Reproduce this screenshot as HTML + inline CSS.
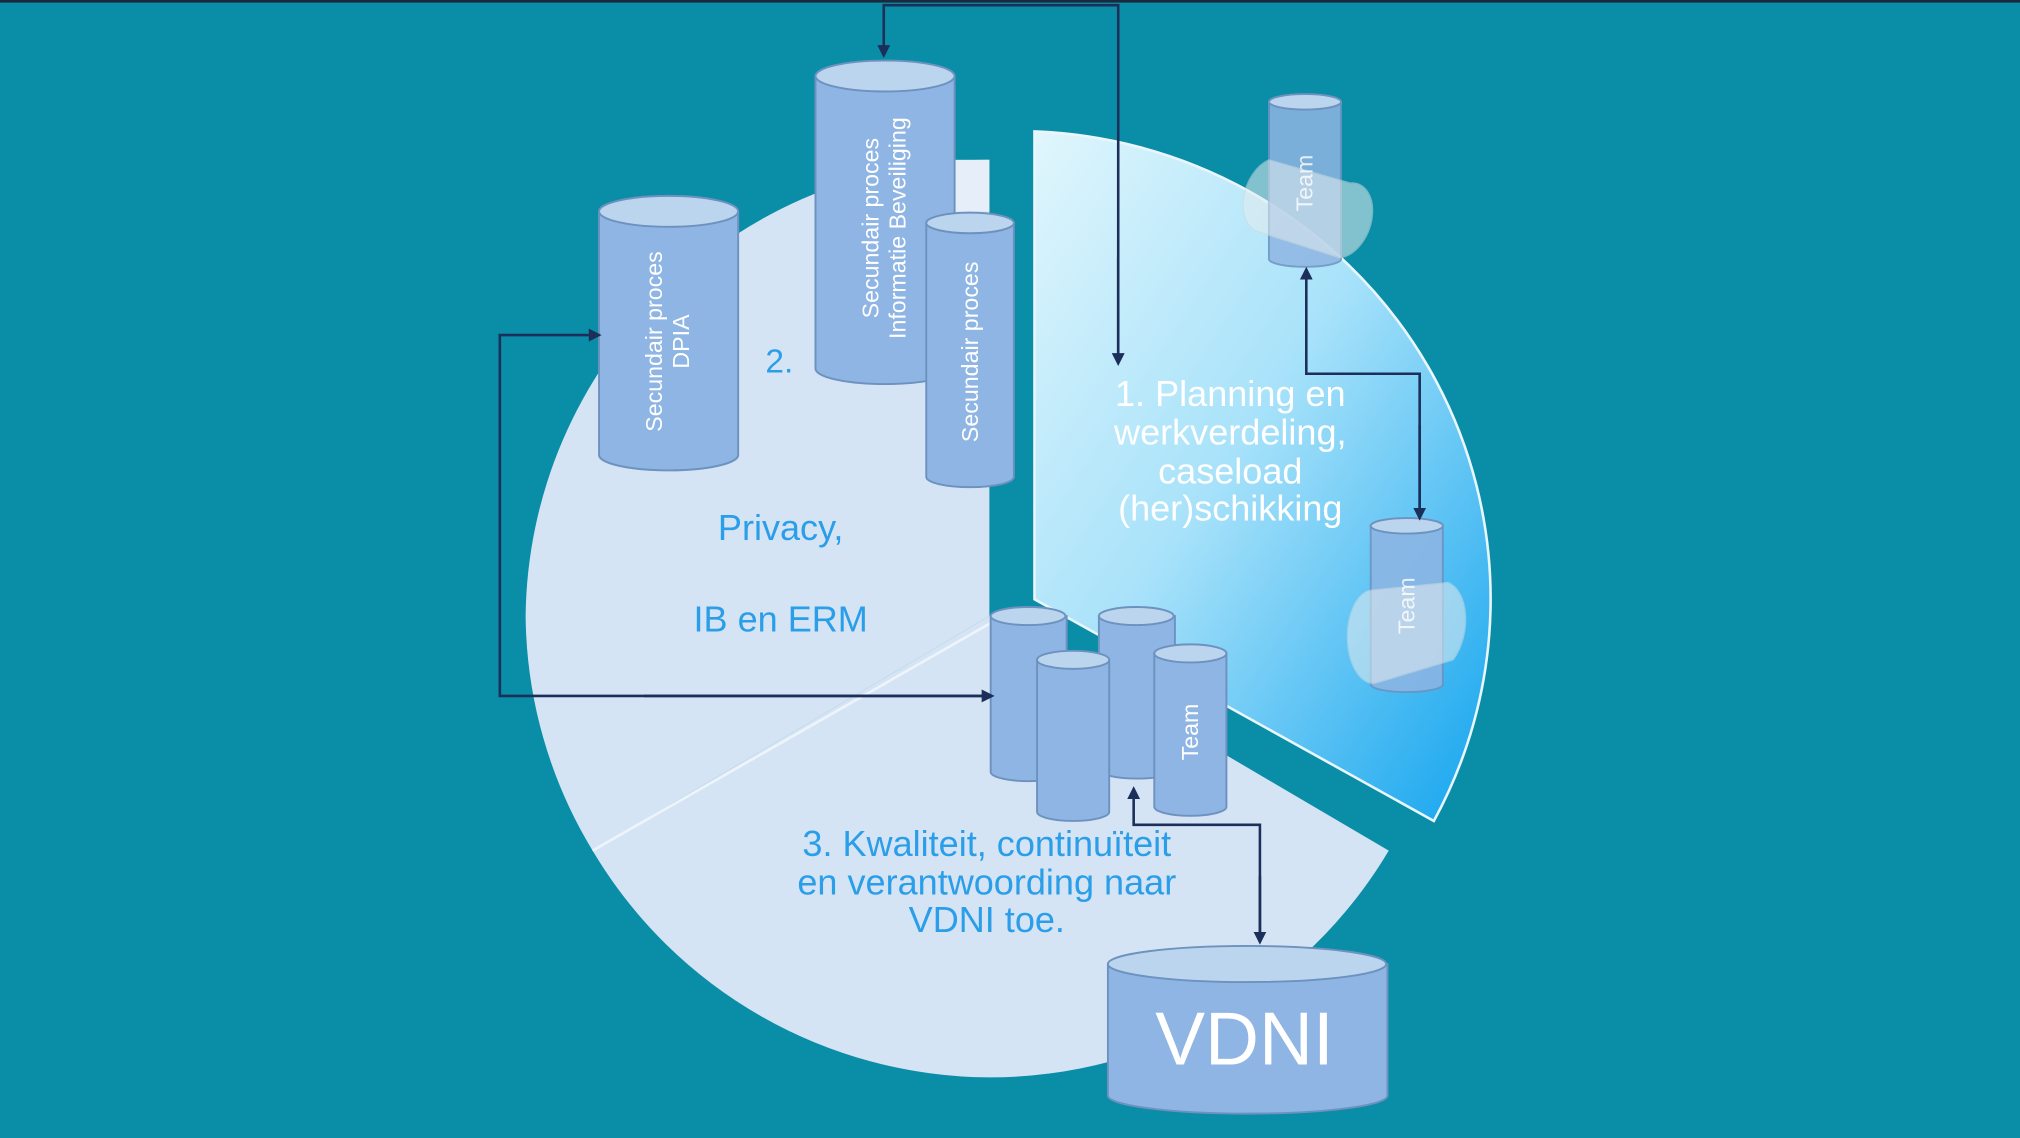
<!DOCTYPE html>
<html><head><meta charset="utf-8"><style>
html,body{margin:0;padding:0;background:#0a8da6;}
svg{display:block;}
text{font-family:"Liberation Sans",Arial,sans-serif;}
</style></head><body>
<svg width="2020" height="1138" viewBox="0 0 1568 883" preserveAspectRatio="none" xmlns="http://www.w3.org/2000/svg">
<defs>
<linearGradient id="g1" x1="0" y1="0" x2="1" y2="1">
<stop offset="0" stop-color="#e0f6fc"/><stop offset="0.45" stop-color="#a8e2fa"/><stop offset="1" stop-color="#12a4ee"/>
</linearGradient>
<marker id="ar" markerWidth="10" markerHeight="10" refX="8" refY="5" orient="auto" markerUnits="userSpaceOnUse">
<path d="M0,0 L10,5 L0,10 z" fill="#1b2f5a"/></marker>
</defs>
<rect width="1568" height="883" fill="#0a8da6"/>
<rect width="1568" height="2" fill="#1a2a3a"/>
<path d="M768,478 L768,124 A360,358 0 0 0 408,478 A360,358 0 0 0 460,660 Z" fill="#d5e4f4"/>
<rect x="740" y="124" width="28" height="40" fill="#e6eff9"/>
<path d="M768,478 L460,660 A360,358 0 0 0 768,836 A360,358 0 0 0 1078,660 Z" fill="#d5e4f4"/>
<line x1="768" y1="484" x2="460" y2="660" stroke="#eef4fb" stroke-width="2"/>
<path d="M803,102 A368,363 0 0 1 1113,637 L803,465 Z" fill="url(#g1)" stroke="#eaf6fd" stroke-width="2"/>
<g stroke="#6d92bf" stroke-width="1.5" fill="#8eb5e3">
<path d="M465,164 L465,353 A54,12 0 0 0 573,353 L573,164 Z"/><ellipse cx="519" cy="164" rx="54" ry="12" fill="#bcd5ef"/>
<path d="M633,59 L633,286 A54,12 0 0 0 741,286 L741,59 Z"/><ellipse cx="687" cy="59" rx="54" ry="12" fill="#bcd5ef"/>
<path d="M719,173 L719,370 A34,8 0 0 0 787,370 L787,173 Z"/><ellipse cx="753" cy="173" rx="34" ry="8" fill="#bcd5ef"/>
<path d="M985,79 L985,201 A28,6 0 0 0 1041,201 L1041,79 Z" opacity="0.85"/><ellipse cx="1013" cy="79" rx="28" ry="6" fill="#bcd5ef"/>
<path d="M1064,408 L1064,531 A28,6 0 0 0 1120,531 L1120,408 Z" opacity="0.85"/><ellipse cx="1092" cy="408" rx="28" ry="6" fill="#bcd5ef"/>
<path d="M769,478 L769,599 A29,7 0 0 0 828,599 L828,478 Z"/><ellipse cx="798" cy="478" rx="29" ry="7" fill="#bcd5ef"/>
<path d="M853,478 L853,597 A29,7 0 0 0 912,597 L912,478 Z"/><ellipse cx="882" cy="478" rx="29" ry="7" fill="#bcd5ef"/>
<path d="M805,512 L805,630 A28,7 0 0 0 861,630 L861,512 Z"/><ellipse cx="833" cy="512" rx="28" ry="7" fill="#bcd5ef"/>
<path d="M896,507 L896,626 A28,7 0 0 0 952,626 L952,507 Z"/><ellipse cx="924" cy="507" rx="28" ry="7" fill="#bcd5ef"/>
<path d="M860,748 L860,850 A108,14 0 0 0 1077,850 L1077,748 Z"/><ellipse cx="968" cy="748" rx="108" ry="14" fill="#bcd5ef"/>
</g>
<g fill="#e4ecef" opacity="0.55" stroke="#cfdbe0">
<path d="M985,124 L1048,142 A20,30 20 0 1 1040,200 L977,180 A20,30 20 0 1 985,124 Z"/>
<path d="M1064,458 L1124,452 A22,36 10 0 1 1128,512 L1068,530 A20,36 0 0 1 1064,458 Z"/>
</g>
<g fill="#fff" font-size="18" text-anchor="middle">
<text transform="translate(514,265) rotate(-90)">Secundair proces</text>
<text transform="translate(535,265) rotate(-90)">DPIA</text>
<text transform="translate(682,177) rotate(-90)">Secundair proces</text>
<text transform="translate(703,177) rotate(-90)">Informatie Beveiliging</text>
<text transform="translate(759,273) rotate(-90)">Secundair proces</text>
<text transform="translate(1019,142) rotate(-90)" opacity="0.8">Team</text>
<text transform="translate(1098,470) rotate(-90)" opacity="0.8">Team</text>
<text transform="translate(930,568) rotate(-90)">Team</text>
</g>
<g stroke="#1b2f5a" stroke-width="2" fill="none">
<polyline points="868,278 868,4 686,4 686,43" marker-end="url(#ar)"/>
<line x1="868" y1="200" x2="868" y2="282" marker-end="url(#ar)"/>
<polyline points="770,540 388,540 388,260 465,260" marker-end="url(#ar)"/>
<line x1="500" y1="540" x2="770" y2="540" marker-end="url(#ar)"/>
<polyline points="1102,400 1102,290 1014,290 1014,209" marker-end="url(#ar)"/>
<line x1="1102" y1="330" x2="1102" y2="402" marker-end="url(#ar)"/>
<polyline points="978,730 978,640 880,640 880,612" marker-end="url(#ar)"/>
<line x1="978" y1="680" x2="978" y2="731" marker-end="url(#ar)"/>
</g>
<g fill="#2a9ee8" font-size="28" text-anchor="middle">
<text x="605" y="289" font-size="26">2.</text>
<text x="606" y="419">Privacy,</text>
<text x="606" y="490">IB en ERM</text>
<text x="766" y="664">3. Kwaliteit, continuïteit</text>
<text x="766" y="694">en verantwoording naar</text>
<text x="766" y="723">VDNI toe.</text>
</g>
<g fill="#fff" font-size="28" text-anchor="middle">
<text x="955" y="315">1. Planning en</text>
<text x="955" y="345">werkverdeling,</text>
<text x="955" y="375">caseload</text>
<text x="955" y="404">(her)schikking</text>
<text x="966" y="826" font-size="58">VDNI</text>
</g>
</svg>
</body></html>
